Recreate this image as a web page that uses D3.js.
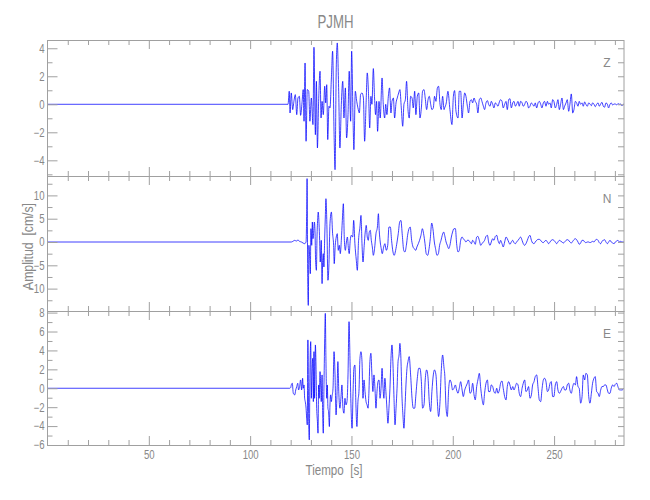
<!DOCTYPE html>
<html><head><meta charset="utf-8">
<script src="https://cdn.jsdelivr.net/npm/d3@7"></script>
<style>
body{margin:0;background:#fff}
text{font-family:"Liberation Sans",Arial,sans-serif;fill:#888888}
</style>
</head><body>
<svg id="c" width="650" height="500"></svg>
<script>
const title = "PJMH";
const xLabel = "Tiempo\u00a0 [s]";
const yLabel = "Amplitud\u00a0 [cm/s]";
const xDomain = [0, 284.5];
const xMajorTicks = [50, 100, 150, 200, 250];
const xMinorTicks = [10,20,30,40,60,70,80,90,110,120,130,140,160,170,180,190,210,220,230,240,260,270,280];

const zDomain = [-5.12, 4.59], zTicks = [-4, -2, 0, 2, 4], zMinorStep = 1;
const nDomain = [-14.8, 14.16], nTicks = [-10, -5, 0, 5, 10], nMinorStep = 2.5;
const eDomain = [-6, 8.17], eTicks = [-6, -4, -2, 0, 2, 4, 6, 8], eMinorStep = 1;

// [time s, amplitude cm/s]
const zData = [[0,0],[118.7,0],[119.3,0.93],[119.7,-0.62],[120.3,0.81],[121.0,-0.38],[121.6,0.21],[122.3,0.69],[123.0,-0.74],[123.6,0.45],[124.3,0.57],[124.9,-0.79],[125.6,0.10],[126.2,1.05],[126.6,-1.21],[127.1,2.95],[127.6,-2.64],[128.2,1.05],[128.9,0.93],[129.5,-1.21],[130.2,0.45],[131.0,-1.45],[131.5,4.07],[132.2,-2.17],[132.7,1.64],[133.2,-3.12],[133.8,0.21],[134.5,2.36],[135.0,-0.98],[135.5,0.21],[136.1,-0.74],[136.8,1.29],[137.3,0.10],[137.8,1.40],[138.3,-2.52],[138.9,-0.14],[139.4,-0.26],[140.1,1.88],[140.7,3.79],[141.4,-1.93],[141.9,-4.67],[142.5,2.60],[143.0,4.38],[143.7,0.93],[144.3,-3.12],[145.0,-0.02],[145.7,1.64],[146.3,-0.98],[147.0,1.17],[147.6,-2.40],[148.3,-0.74],[148.9,2.36],[149.6,-1.21],[150.1,3.79],[150.8,-1.21],[151.2,-3.24],[151.9,0.93],[152.6,0.21],[153.2,-0.26],[153.9,-0.62],[154.5,0.69],[155.2,0.81],[155.9,0.45],[156.5,-2.64],[157.2,-0.02],[157.8,2.24],[158.5,0.45],[159.0,-1.69],[159.6,0.57],[160.1,0],[160.8,2.55],[161.4,0.45],[161.9,-0.74],[162.4,0.21],[162.9,-1.93],[163.6,0.21],[164.2,-0.98],[165.1,1.88],[165.7,0],[166.4,-0.98],[166.9,0],[167.5,-0.74],[168.2,0.57],[168.8,1.17],[169.5,-0.62],[170.0,0.21],[170.7,0.45],[171.3,-0.98],[172.0,0.10],[172.6,0.45],[173.3,0.81],[173.9,1.05],[174.6,-0.26],[175.3,-1.57],[175.9,0],[176.6,0.33],[177.2,1.64],[177.9,-0.38],[178.5,-0.98],[179.2,0.57],[179.9,0.45],[180.5,-0.26],[181.2,0.93],[181.8,-0.74],[182.5,0.57],[183.2,0.81],[183.8,-0.98],[184.5,-0.26],[185.1,0.93],[185.8,1.05],[186.4,0.45],[187.1,-0.38],[187.8,0.33],[188.4,0.57],[189.1,0],[189.7,-0.38],[190.4,-0.26],[191.0,0.57],[191.7,0.21],[192.4,1.17],[193.0,1.29],[193.7,0],[194.3,-0.38],[195.0,0.57],[195.7,-0.38],
[196.0,-0.26],[196.8,0.10],[197.6,0.93],[198.6,-0.38],[199.6,-1.45],[200.3,0.57],[200.9,0.98],[201.6,-0.50],[202.6,-0.98],[203.2,0.93],[203.9,0.93],[204.6,-0.98],[205.2,0],[205.9,0.81],[206.5,0.57],[207.2,-0.14],[207.8,-0.62],[208.5,0.21],[209.2,0.33],[209.8,0.10],[210.5,0.45],[211.1,0.21],[211.8,0],[212.4,-0.62],[213.1,0.33],[213.8,0.45],[214.4,0.21],[215.1,-0.14],[215.7,-0.38],[216.4,0.10],[217.1,0.26],[217.7,0],[218.4,-0.14],[219.0,0.21],[219.7,0],[220.3,-0.26],[221.0,0.10],[221.7,0],[222.3,-0.14],[223.0,0.17],[223.6,0.33],[224.3,0.21],[224.9,-0.26],[225.6,0],[226.3,0.21],[226.9,-0.38],[227.6,0.33],[228.2,0.40],[228.9,-0.26],[229.6,0.10],[230.2,0.21],[230.9,-0.14],[231.5,0],[232.2,0.21],[232.8,-0.14],[233.5,0.21],[234.2,0.10],[234.8,-0.14],[235.5,0],[236.1,0.21],[236.8,0.10],[237.4,-0.26],[238.1,-0.14],[238.8,0.10],[239.4,0],[240.1,-0.14],[240.7,0.10],[241.4,-0.26],[242.1,0.10],[242.7,0.21],[243.4,0],[244.0,-0.26],[244.7,0.10],[245.3,0.21],[246.0,-0.14],[246.7,0.21],[247.3,0],[248.0,0.10],[248.6,-0.26],[249.3,0.33],[249.9,0.21],[250.6,-0.26],[251.3,0],[251.9,0.33],[252.6,-0.38],[253.2,0],[253.9,0.45],[254.6,-0.38],[255.2,-0.14],[255.9,0.10],[256.5,0.33],[257.2,-0.50],[257.8,0],[258.5,0.74],[259.2,-0.62],[259.8,-0.38],[260.5,0.21],[261.1,0.10],[261.8,-0.14],[262.4,0.21],[263.1,0],[263.8,0.10],[264.4,-0.14],[265.1,0.17],[265.7,0],[266.4,-0.14],[267.1,0.10],[267.7,0.02],[268.4,-0.10],[269.0,0.10],[269.7,0],[270.3,-0.17],[271.0,0],[271.7,0.10],[272.3,-0.14],[273.0,0.02],[273.6,0.14],[274.3,-0.14],[274.9,-0.21],[275.6,0.10],[276.3,0],[276.9,-0.26],[277.6,0],[278.2,0.10],[278.9,-0.05],[279.6,0.02],[280.2,0.02],[280.9,-0.05],[281.5,0.05],[282.2,0],[282.8,0.02],[283.5,-0.10],[284.2,0],[284.5,0]];

const nData = [[0,0],[120.3,0],[121.1,0.14],[122.0,0.36],[122.8,0.21],[123.6,0.43],[124.4,0.14],[125.3,0],[126.1,-0.21],[126.9,-0.36],[127.6,0],[127.9,6.07],[128.1,13.6],[128.4,-6.8],[128.7,-13.6],[129.0,-0.71],[129.4,-3.57],[129.7,-6.8],[130.0,2.86],[130.4,-0.71],[130.7,4.29],[131.0,0.71],[131.3,1.79],[131.7,4.29],[132.0,2.5],[132.3,-3.93],[132.7,-6.07],[133.0,1.07],[133.3,4.64],[133.6,6.43],[134.0,3.93],[134.3,0.36],[134.6,-4.29],[135.1,0.36],[135.5,-8.93],[135.8,-3.93],[136.1,-2.5],[136.4,-5.36],[136.8,1.07],[137.1,5.36],[137.4,9.29],[137.9,3.21],[138.4,-8.21],[138.9,-4.64],[139.4,3.93],[140.1,6.43],[140.7,1.79],[141.2,-0.71],[141.5,-4.64],[142.0,-0.71],[142.5,1.07],[143.0,1.79],[143.5,-1.79],[144.0,-0.71],[144.5,-2.5],[145.0,0.36],[145.5,4.64],[146.0,8.21],[146.5,0.36],[147.0,-1.79],[147.5,0],[148.0,1.07],[148.5,-1.43],[148.9,-2.5],[149.4,0.36],[149.9,1.43],[150.6,1.07],[151.1,4.64],[151.7,-0.36],[152.4,-3.93],[152.9,-6.07],[153.5,0.36],[154.2,3.21],[154.7,5.71],[155.2,-0.36],[155.7,-4.29],[156.3,-0.71],[156.8,2.14],[157.3,3.57],[157.8,1.07],[158.3,0.36],[158.8,2.14],[159.3,2.5],[159.8,0.36],[160.3,-1.07],[160.8,-2.86],[161.4,-1.43],[162.1,1.79],[162.8,3.21],[163.3,6.07],[163.7,2.5],[164.2,0],[164.7,-1.43],[165.2,-2.5],[165.9,-1.07],[166.5,-0.36],[167.2,-1.79],[167.9,-0.71],[168.5,3.21],[169.2,3.21],[169.8,0.36],[170.5,-2.14],[171.1,-2.86],[171.8,-1.79],[172.5,0],[173.1,1.79],[173.8,4.29],[174.4,4.64],[175.1,1.43],[175.8,-1.79],[176.4,-2.14],[177.1,-0.71],[177.7,1.43],[178.4,2.86],[179.0,3.21],[179.7,0.36],[180.4,-1.07],[181.0,-1.43],[181.7,-1.79],[182.3,-1.07],[183.0,-0.36],[183.6,0.36],[184.3,1.43],[185.0,2.86],[185.6,1.79],[186.3,-0.36],[186.9,-2.5],[187.6,-2.86],[188.3,-1.43],[188.9,0.71],[189.6,4.07],[190.2,2.86],[190.9,0],[191.5,-1.43],[192.2,-2.86],[192.9,-2.5],[193.5,-0.71],[194.2,0.36],[194.8,1.43],[195.5,2.14],
[196.0,1.43],[196.7,0],[197.3,-0.71],[198.0,-1.43],[198.6,-0.71],[199.3,1.07],[199.9,2.14],[200.6,2.86],[201.3,2.86],[201.9,-0.36],[202.6,-2.14],[203.2,-1.79],[203.9,0.36],[204.6,1.07],[205.2,0.71],[205.9,0.36],[206.5,0],[207.2,0.36],[207.8,0.36],[208.5,0],[209.2,-0.36],[209.8,0.36],[210.5,0],[211.1,-0.5],[211.8,1.07],[212.4,1.21],[213.1,0.36],[213.8,-0.71],[214.4,-0.36],[215.1,0],[215.7,0.36],[216.4,1.21],[217.1,1.43],[217.7,0],[218.4,-0.71],[219.0,0],[219.7,0.71],[220.3,0.36],[221.0,1.21],[221.7,1.43],[222.3,0.36],[223.0,-0.36],[223.6,0.36],[224.3,-0.36],[224.9,-1.07],[225.6,0],[226.3,1.07],[226.9,0.71],[227.6,0],[228.2,-0.5],[228.9,0],[229.6,0.36],[230.2,-0.14],[230.9,-0.36],[231.5,0],[232.2,0.36],[232.8,0.71],[233.5,1.07],[234.2,0.36],[234.8,-0.36],[235.5,-0.71],[236.1,-0.36],[236.8,0.36],[237.4,1.07],[238.1,1.43],[238.8,0.36],[239.4,-0.21],[240.1,-0.36],[240.7,0],[241.4,0.36],[242.1,0.57],[242.7,0.57],[243.4,0.36],[244.0,0],[244.7,-0.14],[245.3,0.14],[246.0,0.36],[246.7,0],[247.3,-0.36],[248.0,0],[248.6,0.36],[249.3,0.5],[249.9,0.36],[250.6,0],[251.3,-0.36],[251.9,0],[252.6,0.36],[253.2,0.21],[253.9,0],[254.6,-0.21],[255.2,0],[255.9,0.36],[256.5,0.5],[257.2,0.36],[257.8,0],[258.5,-0.21],[259.2,0.14],[259.8,0.5],[260.5,0.71],[261.1,0.5],[261.8,0],[262.4,-0.5],[263.1,-0.21],[263.8,0.36],[264.4,0.36],[265.1,0],[265.7,-0.14],[266.4,0],[267.1,0],[267.7,-0.14],[268.4,0],[269.0,0.14],[269.7,0],[270.3,0.36],[271.0,0.57],[271.7,0.36],[272.3,-0.14],[273.0,-0.36],[273.6,0.14],[274.3,0.36],[274.9,0.5],[275.6,0],[276.3,-0.36],[276.9,0],[277.6,0.36],[278.2,0],[278.9,-0.21],[279.6,-0.36],[280.2,0],[280.9,0.21],[281.5,0.36],[282.2,0],[282.8,0.14],[283.5,0],[284.5,0]];

const eData = [[0,0],[119.5,0],[120.0,0.07],[120.3,0.35],[120.8,0.53],[121.3,-0.53],[122.0,-0.70],[122.5,-0.18],[123.0,0.18],[123.5,0.53],[123.9,-0.18],[124.4,0.18],[124.9,0.88],[125.4,-0.18],[125.9,1.06],[126.2,0],[126.6,0.35],[126.9,-1.06],[127.2,-1.41],[127.6,-2.11],[127.9,-3.17],[128.2,-3.87],[128.5,5.11],[128.9,-3.52],[129.2,-5.46],[129.5,1.41],[129.9,4.93],[130.2,-1.06],[130.5,1.41],[130.9,3.17],[131.2,-1.41],[131.5,3.87],[131.8,-1.06],[132.2,4.58],[132.5,2.46],[132.8,-1.76],[133.2,-3.52],[133.5,-4.75],[133.8,0.35],[134.1,-1.06],[134.5,1.76],[134.8,0.35],[135.1,-1.41],[135.5,1.41],[135.8,-2.82],[136.1,-4.75],[136.4,-0.35],[136.8,5.28],[137.1,7.92],[137.4,3.17],[137.8,-1.06],[138.1,0.35],[138.4,-2.11],[138.7,-2.46],[139.1,-4.05],[139.4,-1.76],[139.7,-0.70],[140.1,-1.41],[140.4,-0.88],[140.9,0],[141.4,3.87],[141.9,1.41],[142.4,-2.82],[142.9,-0.35],[143.3,2.82],[143.8,-0.70],[144.3,-2.11],[144.8,-1.06],[145.3,0.35],[145.8,-2.11],[146.3,-2.64],[146.8,-1.06],[147.3,-1.76],[147.8,-1.41],[148.3,1.41],[148.8,7.04],[149.3,2.82],[149.8,-2.11],[150.3,-4.23],[150.8,-0.35],[151.2,2.11],[151.7,2.46],[152.2,-1.76],[152.7,-4.05],[153.2,-1.41],[153.7,-0.35],[154.2,3.17],[154.7,3.87],[155.2,2.82],[155.7,-1.06],[156.2,0.88],[156.7,-0.35],[157.2,-1.41],[157.7,-1.76],[158.2,-2.11],[158.6,-0.53],[159.1,2.82],[159.6,3.70],[160.1,1.41],[160.6,-0.35],[161.1,1.41],[161.6,0],[162.1,-2.11],[162.6,-0.35],[163.1,0.70],[163.6,0.88],[164.1,-1.06],[164.6,0],[165.1,2.11],[165.6,0],[166.0,-1.06],[166.5,1.06],[167.0,-0.35],[167.5,-2.11],[168.0,-3.70],[168.5,-2.11],[169.0,0],[169.5,3.17],[170.0,4.58],[170.5,2.46],[171.0,-1.06],[171.5,-3.87],[172.0,-2.11],[172.5,0],[173.0,2.82],[173.5,3.52],[173.9,4.75],[174.4,3.17],[174.9,-0.70],[175.4,-2.82],[175.9,-4.23],[176.4,-2.11],[176.9,0.35],[177.4,2.11],[177.9,2.82],[178.5,3.35],[179.2,1.41],[179.9,-1.06],[180.5,-2.11],[181.2,-2.11],[181.8,-0.70],[182.5,1.06],[183.2,2.11],[183.8,2.11],[184.5,0.70],[185.1,-2.11],[185.8,-1.76],[186.4,0.88],[187.1,1.94],[187.8,1.06],[188.4,-1.41],[189.1,-2.46],[189.7,-0.35],[190.4,1.41],[191.0,1.94],[191.7,1.41],[192.4,-1.41],[193.0,-2.99],[193.7,-1.41],[194.3,1.76],[195.0,3.52],[195.7,2.11],
[196.0,1.58],[196.7,-2.11],[197.3,-2.99],[198.0,0],[198.6,0.88],[199.3,0.53],[199.9,-0.18],[200.6,0],[201.3,0.35],[201.9,-0.18],[202.6,-0.53],[203.2,0],[203.9,0.70],[204.6,-0.18],[205.2,-0.88],[205.9,-0.18],[206.5,0.18],[207.2,0.53],[207.8,0.88],[208.5,-0.53],[209.2,-0.35],[209.8,0.53],[210.5,-0.70],[211.1,-1.23],[211.8,0.18],[212.4,0.88],[213.1,1.58],[213.8,0],[214.4,-1.06],[215.1,-1.76],[215.7,-0.53],[216.4,0.53],[217.1,0.88],[217.7,-0.35],[218.4,-0.35],[219.0,0.35],[219.7,0.18],[220.3,-0.35],[221.0,-0.53],[221.7,0],[222.3,-0.53],[223.0,-0.18],[223.6,0.53],[224.3,0.77],[224.9,0],[225.6,-0.88],[226.3,-1.23],[226.9,0.18],[227.6,0.70],[228.2,0.35],[228.9,-0.18],[229.6,0.18],[230.2,-0.18],[230.9,0.18],[231.5,0.53],[232.2,0.35],[232.8,-0.53],[233.5,-0.88],[234.2,0],[234.8,0.53],[235.5,0.88],[236.1,-0.35],[236.8,-0.18],[237.4,0.18],[238.1,-1.06],[238.8,-0.70],[239.4,0.35],[240.1,0.70],[240.7,1.23],[241.4,1.41],[242.1,0],[242.7,-1.23],[243.4,-1.41],[244.0,-0.18],[244.7,0.88],[245.3,1.06],[246.0,0.70],[246.7,-0.35],[247.3,-0.18],[248.0,0.53],[248.6,0.70],[249.3,-0.88],[249.9,-0.88],[250.6,0.35],[251.3,0.70],[251.9,-0.18],[252.6,-0.53],[253.2,-0.35],[253.9,0],[254.6,0.18],[255.2,-0.18],[255.9,-0.18],[256.5,0.35],[257.2,0.53],[257.8,-0.18],[258.5,-0.53],[259.2,0.18],[259.8,0.53],[260.5,0.35],[261.1,1.23],[261.8,0.18],[262.4,0],[263.1,-1.58],[263.8,-0.88],[264.4,1.41],[265.1,0.88],[265.7,1.58],[266.4,1.41],[267.1,-0.88],[267.7,-1.58],[268.4,-0.53],[269.0,0.53],[269.7,1.06],[270.3,1.23],[271.0,-0.35],[271.7,-0.53],[272.3,-0.88],[273.0,-0.18],[273.6,0.18],[274.3,0.18],[274.9,0.35],[275.6,0.35],[276.3,-0.18],[276.9,-0.53],[277.6,-0.53],[278.2,0],[278.9,0.35],[279.6,0.18],[280.2,0.42],[280.9,0.53],[281.5,0.18],[282.2,-0.18],[282.8,-0.18],[283.5,-0.18],[284.5,0]];

const components = [
  {label: "Z", data: zData, domain: zDomain, ticks: zTicks, step: zMinorStep},
  {label: "N", data: nData, domain: nDomain, ticks: nTicks, step: nMinorStep},
  {label: "E", data: eData, domain: eDomain, ticks: eTicks, step: eMinorStep}
];

// layout
const L = 47.5, R = 624, panelTops = [40, 176, 311], panelBottoms = [176, 311, 445];
const axisColor = "#a0a0a0", textColor = "#888888", traceColor = "#0000ff";

const svg = d3.select("#c");
const x = d3.scaleLinear().domain(xDomain).range([L, R]);

function condense(sel, k){
  sel.each(function(){
    const w = this.getComputedTextLength();
    if (w > 0) d3.select(this).attr("textLength", w * k).attr("lengthAdjust", "spacingAndGlyphs");
  });
}
function styleAxis(g){
  g.select(".domain").remove();
  g.selectAll(".tick line").attr("stroke", axisColor);
  g.selectAll(".tick text").attr("fill", textColor).style("font-size","12px");
  condense(g.selectAll(".tick text"), 0.8);
}

components.forEach((c, i) => {
  const top = panelTops[i], bottom = panelBottoms[i];
  const y = d3.scaleLinear().domain(c.domain).range([bottom, top]);
  const minor = d3.range(Math.ceil(c.domain[0]/c.step)*c.step, c.domain[1], c.step)
    .filter(v => !c.ticks.some(t => Math.abs(t - v) < 1e-9));

  const clipId = "clip" + i;
  svg.append("clipPath").attr("id", clipId).append("rect")
    .attr("x", L).attr("y", top).attr("width", R - L).attr("height", bottom - top);

  // trace
  const line = d3.line().x(d => x(d[0])).y(d => y(d[1])).curve(d3.curveMonotoneX);
  svg.append("path").datum(c.data)
    .attr("d", line).attr("fill", "none")
    .attr("stroke", traceColor).attr("stroke-width", 0.75)
    .attr("clip-path", `url(#${clipId})`);

  // y axes left
  svg.append("g").attr("transform", `translate(${L},0)`)
    .call(d3.axisLeft(y).tickValues(c.ticks).tickSize(-10).tickPadding(3).tickFormat(d3.format("d")))
    .call(styleAxis);
  svg.append("g").attr("transform", `translate(${L},0)`)
    .call(d3.axisLeft(y).tickValues(minor).tickSize(-5).tickFormat(""))
    .call(styleAxis);
  // y axes right
  svg.append("g").attr("transform", `translate(${R},0)`)
    .call(d3.axisRight(y).tickValues(c.ticks).tickSize(-6).tickFormat(""))
    .call(styleAxis);
  svg.append("g").attr("transform", `translate(${R},0)`)
    .call(d3.axisRight(y).tickValues(minor).tickSize(-6).tickFormat(""))
    .call(styleAxis);

  // x ticks top
  svg.append("g").attr("transform", `translate(0,${top})`)
    .call(d3.axisTop(x).tickValues(xMajorTicks).tickSize(-9).tickFormat(""))
    .call(styleAxis);
  svg.append("g").attr("transform", `translate(0,${top})`)
    .call(d3.axisTop(x).tickValues(xMinorTicks).tickSize(-5).tickFormat(""))
    .call(styleAxis);
  // x ticks bottom
  svg.append("g").attr("transform", `translate(0,${bottom})`)
    .call(d3.axisBottom(x).tickValues(xMajorTicks).tickSize(-9).tickPadding(5)
      .tickFormat(i === components.length - 1 ? d3.format("d") : ""))
    .call(styleAxis);
  svg.append("g").attr("transform", `translate(0,${bottom})`)
    .call(d3.axisBottom(x).tickValues(xMinorTicks).tickSize(-5).tickFormat(""))
    .call(styleAxis);

  // frame
  svg.append("rect").attr("x", L).attr("y", top + 0.5).attr("width", R - L).attr("height", bottom - top)
    .attr("fill", "none").attr("stroke", axisColor).attr("stroke-width", 1);

  // component label
  svg.append("text").attr("x", 607).attr("y", top + 27)
    .attr("text-anchor", "middle").style("font-size", "12px").attr("fill", textColor)
    .text(c.label);
});

svg.append("text").attr("x", 335.5).attr("y", 28).attr("text-anchor", "middle")
  .style("font-size", "18px").attr("fill", "#8c8c8c")
  .attr("textLength", 36).attr("lengthAdjust", "spacingAndGlyphs").text(title);
svg.append("text").attr("x", 334).attr("y", 475).attr("text-anchor", "middle")
  .style("font-size", "14px").attr("fill", textColor)
  .attr("textLength", 57).attr("lengthAdjust", "spacingAndGlyphs").text(xLabel);
svg.append("text").attr("transform", "translate(33,246.5) rotate(-90)").attr("text-anchor", "middle")
  .style("font-size", "14px").attr("fill", textColor)
  .attr("textLength", 87).attr("lengthAdjust", "spacingAndGlyphs").text(yLabel);
</script>
</body></html>
